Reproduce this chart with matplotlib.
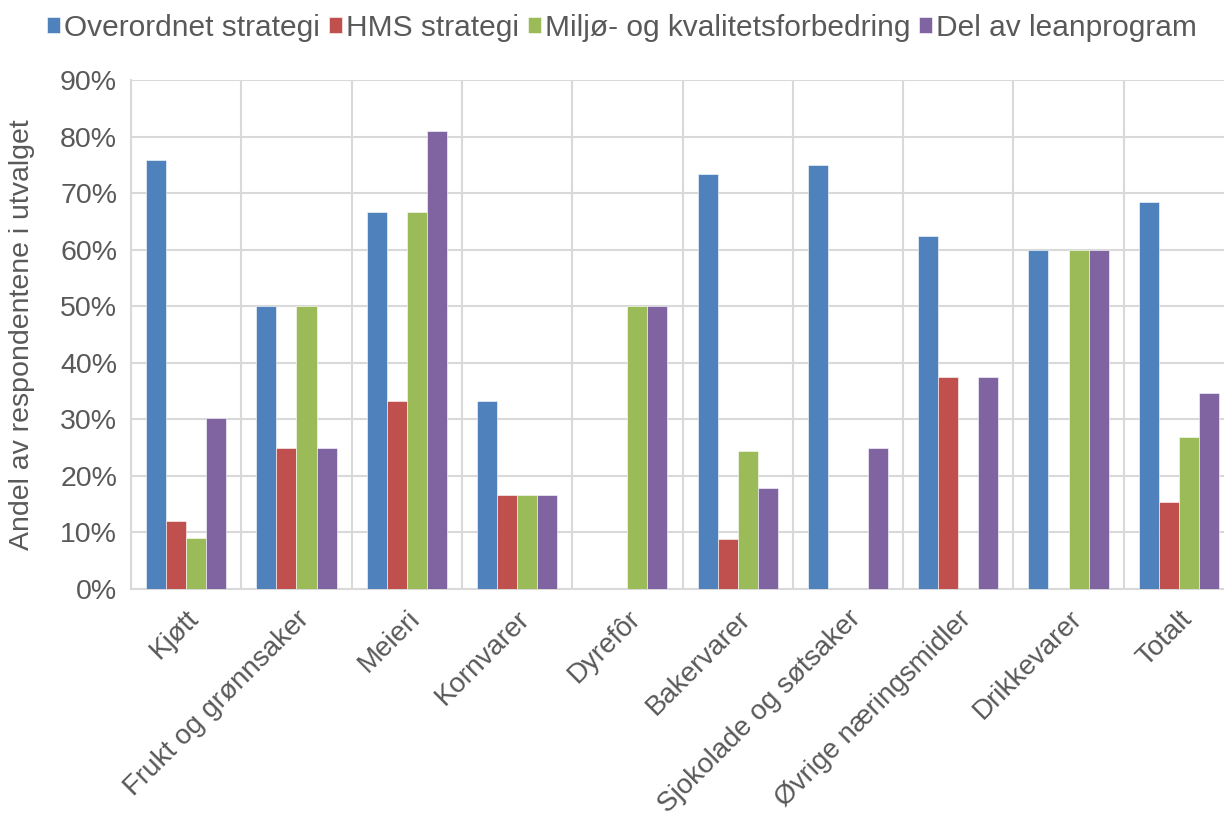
import numpy as np
import matplotlib.pyplot as plt
from matplotlib.ticker import PercentFormatter

plt.rcParams['font.family'] = ['Liberation Sans', 'DejaVu Sans']

categories = ["Kjøtt", "Frukt og grønnsaker", "Meieri", "Kornvarer", "Dyrefôr",
              "Bakervarer", "Sjokolade og søtsaker", "Øvrige næringsmidler",
              "Drikkevarer", "Totalt"]
series = ["Overordnet strategi", "HMS strategi", "Miljø- og kvalitetsforbedring",
          "Del av leanprogram"]
overordnet = [75.8, 50.0, 66.7, 33.3, 0.0, 73.3, 75.0, 62.5, 60.0, 68.4]
hms = [12.1, 25.0, 33.3, 16.7, 0.0, 8.9, 0.0, 37.5, 0.0, 15.4]
miljo = [9.1, 50.0, 66.7, 16.7, 50.0, 24.4, 0.0, 0.0, 60.0, 26.9]
lean = [30.3, 25.0, 80.9, 16.7, 50.0, 17.8, 25.0, 37.5, 60.0, 34.6]
colors = ["#4f81bd", "#c0504d", "#9bbb59", "#8064a2"]

fig = plt.figure(figsize=(12.24, 8.25), dpi=100)
ax = fig.add_axes([131 / 1224, 1 - 589 / 825, 1103 / 1224, 509 / 825])

x = np.arange(len(categories))
w = 0.182
for i, (vals, c, name) in enumerate(zip([overordnet, hms, miljo, lean], colors, series)):
    ax.bar(x + (i - 1.5) * w, vals, width=w, color=c, label=name,
           edgecolor="white", linewidth=0.4, zorder=3)

ax.set_xlim(-0.5, len(categories) - 0.5)
ax.set_ylim(0, 90)
ax.set_yticks(np.arange(0, 91, 10))
ax.yaxis.set_major_formatter(PercentFormatter(decimals=0))
ax.set_xticks(x)
ax.set_xticklabels(categories, rotation=45, ha="right", rotation_mode="anchor")
ax.set_xticks(np.arange(-0.5, len(categories)), minor=True)

ax.grid(True, axis="y", color="#d9d9d9", linewidth=1.5, zorder=0)
ax.grid(True, axis="x", which="minor", color="#d9d9d9", linewidth=1.5, zorder=0)
ax.grid(False, axis="x", which="major")
for s in ["top", "right"]:
    ax.spines[s].set_visible(False)
for s in ["left", "bottom"]:
    ax.spines[s].set_color("#d9d9d9")
    ax.spines[s].set_linewidth(1.5)

ax.tick_params(axis="both", which="both", length=0, labelsize=20.5, labelcolor="#595959")
ax.tick_params(axis="y", pad=10)
ax.tick_params(axis="x", pad=12, labelsize=20)
ax.set_ylabel("Andel av respondentene i utvalget", fontsize=20.5, color="#595959")
ax.yaxis.set_label_coords(-0.087, 0.5)

fig.legend(loc="upper center", bbox_to_anchor=(0.508, 1.016), ncol=4, frameon=False,
           fontsize=21.5, labelcolor="#595959", handlelength=0.45, handleheight=0.45,
           handletextpad=0.12, columnspacing=0.3)

fig.savefig("out.png", dpi=100)
